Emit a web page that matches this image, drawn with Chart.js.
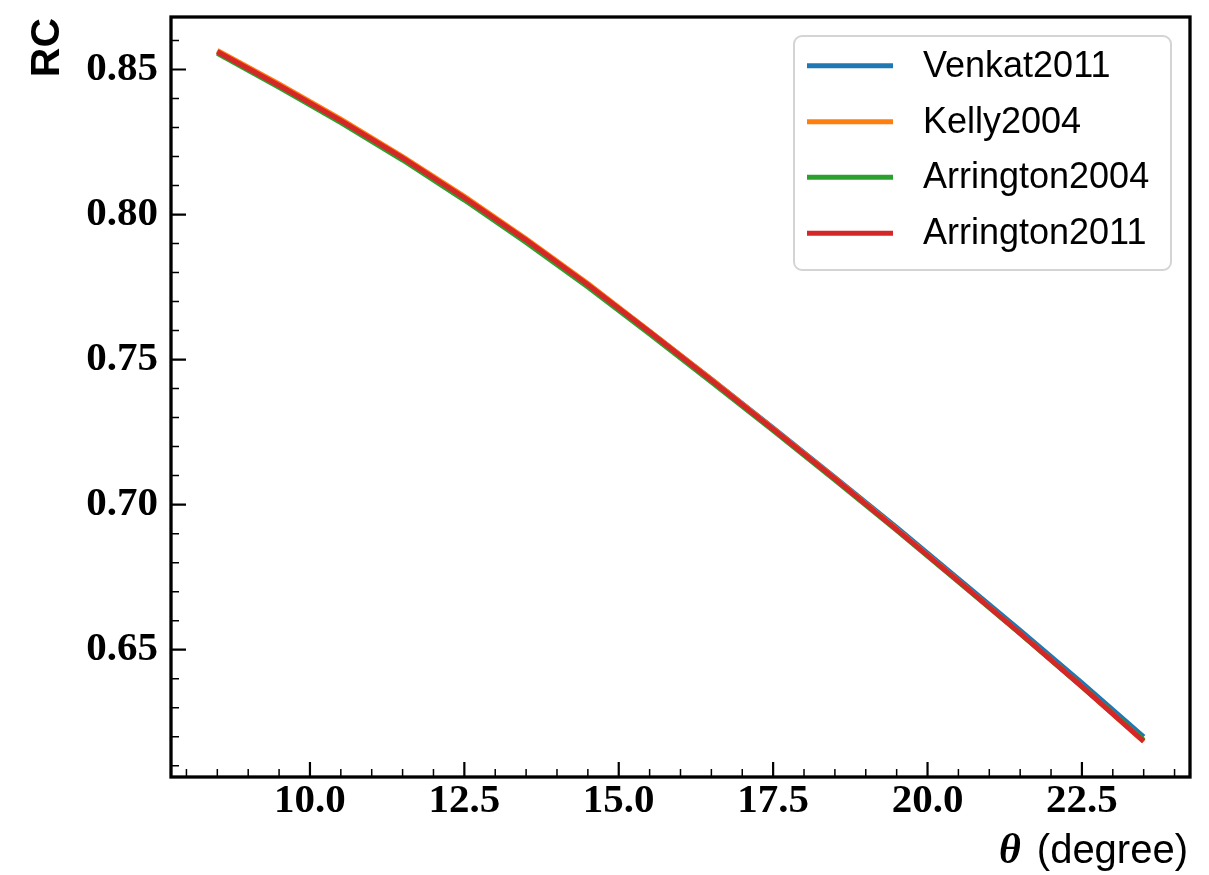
<!DOCTYPE html>
<html><head><meta charset="utf-8">
<script src="https://cdn.jsdelivr.net/npm/chart.js@4.4.0/dist/chart.umd.min.js"></script>
<style>html,body{margin:0;padding:0;background:#fff;} #wrap{width:1209px;height:875px;position:relative;}</style>
</head><body><div id="wrap"><canvas id="c"></canvas></div>
<script>
// ---- data ----
const theta = [8.5, 9.5, 10.5, 11.5, 12.5, 13.5, 14.5, 15.5, 16.5, 17.5, 18.5, 19.5, 20.5, 21.5, 22.5, 23.5];
const venkat2011    = [0.8561, 0.8445, 0.8324, 0.8195, 0.8058, 0.7912, 0.7759, 0.7597, 0.7432, 0.7264, 0.7094, 0.6921, 0.6744, 0.6566, 0.6385, 0.6199];
const kelly2004     = [0.8566, 0.8450, 0.8329, 0.8200, 0.8063, 0.7916, 0.7762, 0.7598, 0.7432, 0.7262, 0.7091, 0.6915, 0.6737, 0.6556, 0.6373, 0.6184];
const arrington2004 = [0.8556, 0.8439, 0.8317, 0.8188, 0.8050, 0.7904, 0.7750, 0.7588, 0.7423, 0.7255, 0.7085, 0.6911, 0.6734, 0.6555, 0.6373, 0.6188];
const arrington2011 = [0.8561, 0.8445, 0.8324, 0.8195, 0.8058, 0.7912, 0.7758, 0.7595, 0.7429, 0.7260, 0.7089, 0.6914, 0.6736, 0.6556, 0.6373, 0.6184];
const seriesNames  = ['Venkat2011', 'Kelly2004', 'Arrington2004', 'Arrington2011'];
const seriesColors = ['#1f77b4', '#ff7f0e', '#2ca02c', '#d62728'];
const xTicks = [10.0, 12.5, 15.0, 17.5, 20.0, 22.5];
const yTicks = [0.65, 0.70, 0.75, 0.80, 0.85];
const xTitleSym = 'θ';
const xTitleText = '(degree)';
const yTitle = 'RC';

const allSeries = [venkat2011, kelly2004, arrington2004, arrington2011];

const datasets = allSeries.map((arr, i) => ({
  label: seriesNames[i],
  data: theta.map((t, j) => ({x: t, y: arr[j]})),
  borderColor: seriesColors[i],
  backgroundColor: seriesColors[i],
  borderWidth: 5,
  pointRadius: 0,
  tension: 0,
  fill: false,
  order: allSeries.length - 1 - i,
  borderCapStyle: 'butt'
}));

const decorPlugin = {
  id: 'decor',
  afterDraw(chart) {
    const ctx = chart.ctx;
    const a = chart.chartArea;
    const xs = chart.scales.x, ys = chart.scales.y;
    ctx.save();
    ctx.strokeStyle = '#000';
    // minor ticks
    ctx.lineWidth = 1.5;
    ctx.beginPath();
    for (let k = 16; k <= 48; k++) {
      const v = k * 0.5;
      if (xTicks.some(t => Math.abs(t - v) < 1e-6)) continue;
      const px = xs.getPixelForValue(v);
      if (px < a.left || px > a.right) continue;
      ctx.moveTo(px, a.bottom); ctx.lineTo(px, a.bottom - 8);
    }
    for (let k = 61; k <= 86; k++) {
      const v = k / 100;
      if (yTicks.some(t => Math.abs(t - v) < 1e-6)) continue;
      const py = ys.getPixelForValue(v);
      if (py < a.top || py > a.bottom) continue;
      ctx.moveTo(a.left, py); ctx.lineTo(a.left + 8, py);
    }
    ctx.stroke();
    // major ticks
    ctx.lineWidth = 2.2;
    ctx.beginPath();
    xTicks.forEach(v => { const px = xs.getPixelForValue(v); ctx.moveTo(px, a.bottom); ctx.lineTo(px, a.bottom - 15); });
    yTicks.forEach(v => { const py = ys.getPixelForValue(v); ctx.moveTo(a.left, py); ctx.lineTo(a.left + 15, py); });
    ctx.stroke();
    // spines
    ctx.lineWidth = 3.3;
    ctx.strokeRect(a.left, a.top, a.right - a.left, a.bottom - a.top);

    // legend
    const lx = 794, ly = 36, lw = 377, lh = 234;
    ctx.beginPath();
    ctx.roundRect(lx, ly, lw, lh, 8);
    ctx.fillStyle = 'rgba(255,255,255,0.8)';
    ctx.fill();
    ctx.lineWidth = 2;
    ctx.strokeStyle = '#d4d4d4';
    ctx.stroke();
    const rows = [65.7, 121.7, 177.3, 233.3];
    ctx.font = '36px "Liberation Sans", Arial, sans-serif';
    ctx.textBaseline = 'middle';
    ctx.textAlign = 'left';
    seriesNames.forEach((n, i) => {
      ctx.strokeStyle = seriesColors[i];
      ctx.lineWidth = 5;
      ctx.beginPath();
      ctx.moveTo(807, rows[i]); ctx.lineTo(893, rows[i]);
      ctx.stroke();
      ctx.fillStyle = '#000';
      ctx.fillText(n, 923, rows[i] + 1);
    });

    // y title
    ctx.save();
    ctx.translate(47.5, 18);
    ctx.rotate(-Math.PI / 2);
    ctx.font = 'bold 41px "Liberation Sans", Arial, sans-serif';
    ctx.textAlign = 'right';
    ctx.textBaseline = 'middle';
    ctx.fillStyle = '#000';
    ctx.fillText(yTitle, 0, 0);
    ctx.restore();

    // x title
    ctx.fillStyle = '#000';
    ctx.textBaseline = 'alphabetic';
    ctx.textAlign = 'right';
    ctx.font = '40px "Liberation Sans", Arial, sans-serif';
    const wText = ctx.measureText(xTitleText).width;
    ctx.fillText(xTitleText, 1188, 863);
    ctx.font = 'bold italic 42px "Liberation Serif", serif';
    ctx.fillText(xTitleSym, 1188 - wText - 16, 863);
    ctx.restore();
  }
};

new Chart(document.getElementById('c'), {
  type: 'line',
  data: { datasets },
  options: {
    responsive: true,
    maintainAspectRatio: false,
    animation: false,
    layout: { padding: { left: 0, top: 17, right: 19, bottom: 0 } },
    plugins: { legend: { display: false }, tooltip: { enabled: false } },
    scales: {
      x: {
        type: 'linear', min: 7.75, max: 24.25,
        afterBuildTicks(s) { s.ticks = xTicks.map(v => ({ value: v })); },
        afterFit(s) { s.height = 98; s.paddingLeft = 0; s.paddingRight = 0; s.paddingTop = 0; s.paddingBottom = 0; },
        ticks: { callback: v => Number(v).toFixed(1), color: '#000', padding: 0, autoSkip: false, maxRotation: 0,
                 font: { family: '"Liberation Serif", serif', weight: 'bold', size: 41 } },
        grid: { display: false, drawTicks: false },
        border: { display: false }
      },
      y: {
        type: 'linear', min: 0.6061, max: 0.8681,
        afterBuildTicks(s) { s.ticks = yTicks.map(v => ({ value: v })); },
        afterFit(s) { s.width = 171; s.paddingTop = 0; s.paddingBottom = 0; s.paddingLeft = 0; s.paddingRight = 0; },
        ticks: { callback: v => Number(v).toFixed(2), color: '#000', padding: 13, autoSkip: false,
                 font: { family: '"Liberation Serif", serif', weight: 'bold', size: 41 } },
        grid: { display: false, drawTicks: false },
        border: { display: false }
      }
    }
  },
  plugins: [decorPlugin]
});
</script></body></html>
